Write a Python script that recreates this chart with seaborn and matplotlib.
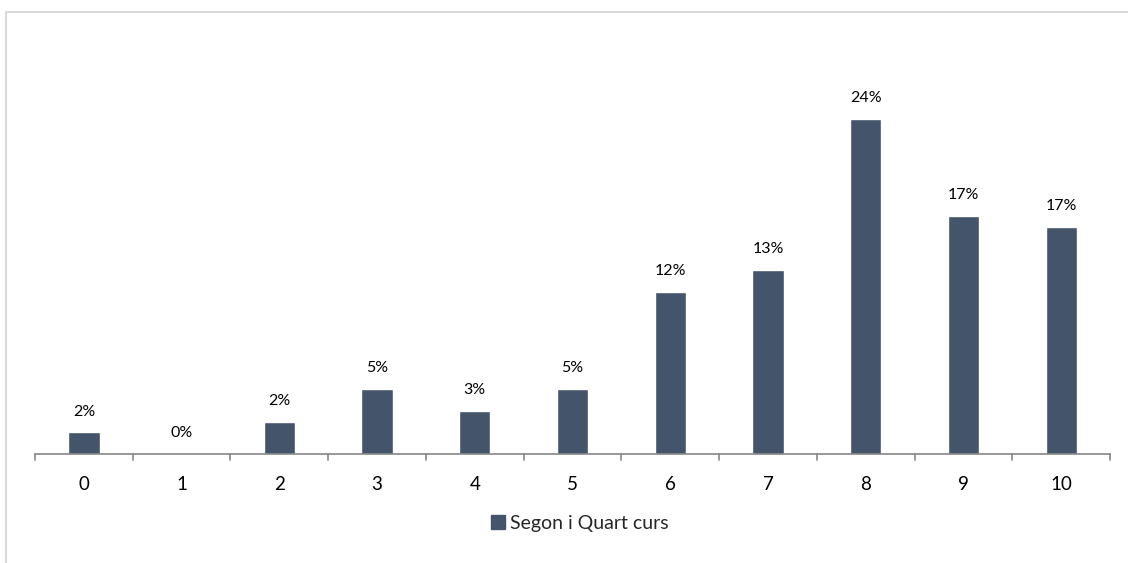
import matplotlib
matplotlib.use("Agg")
import matplotlib.pyplot as plt
import seaborn as sns
import pandas as pd
from matplotlib.patches import Rectangle

categories = ["0", "1", "2", "3", "4", "5", "6", "7", "8", "9", "10"]
values = [1.57, 0.0, 2.36, 4.72, 3.15, 4.72, 11.81, 13.39, 24.41, 17.32, 16.54]
series_name = "Segon i Quart curs"

sns.set_theme(style="white")
plt.rcParams["font.family"] = ["Lato", "DejaVu Sans"]

W, H = 1128, 563
fig = plt.figure(figsize=(W / 100, H / 100), dpi=100)

# outer light frame
fig.add_artist(Rectangle((6 / W, -0.05), 1.2, (H - 12) / H + 0.05, transform=fig.transFigure,
                         fill=False, edgecolor="#d9d9d9", linewidth=1.5))

left, right, bottom_px, top_px = 35, 1110, 454, 42
ax = fig.add_axes([left / W, (H - bottom_px) / H, (right - left) / W, (bottom_px - top_px) / H])

df = pd.DataFrame({"cat": categories, "val": values, "series": series_name})
color = "#44546A"
sns.barplot(data=df, x="cat", y="val", hue="series", palette=[color], width=0.32,
            ax=ax, legend=False, saturation=1)

ax.set_ylim(0, 30)
ax.set_xlim(-0.5, len(categories) - 0.5)
for s in ["top", "right", "left"]:
    ax.spines[s].set_visible(False)
ax.spines["bottom"].set_color("#868686")
ax.spines["bottom"].set_linewidth(1.2)
ax.set_yticks([])
ax.set_xlabel("")
ax.set_ylabel("")

# category labels centered, ticks between categories
ax.set_xticks(range(len(categories)))
ax.set_xticklabels(categories, fontsize=13.5, color="#000000")
ax.tick_params(axis="x", length=0, pad=16)
for b in [i - 0.5 for i in range(len(categories) + 1)]:
    ax.plot([b, b], [0, -0.45], color="#868686", lw=1.2, clip_on=False)

for i, v in enumerate(values):
    ax.annotate(f"{v:.0f}%", (i, v), xytext=(0, 10), textcoords="offset points",
                ha="center", va="bottom", fontsize=11.5, color="#000000")

handle = Rectangle((0, 0), 1, 1, color=color)
fig.legend([handle], [series_name], loc="center", bbox_to_anchor=(580 / W, (H - 523) / H),
           frameon=False, fontsize=14, handlelength=0.7, handleheight=0.7,
           handletextpad=0.25)

fig.savefig("out.png", dpi=100)
